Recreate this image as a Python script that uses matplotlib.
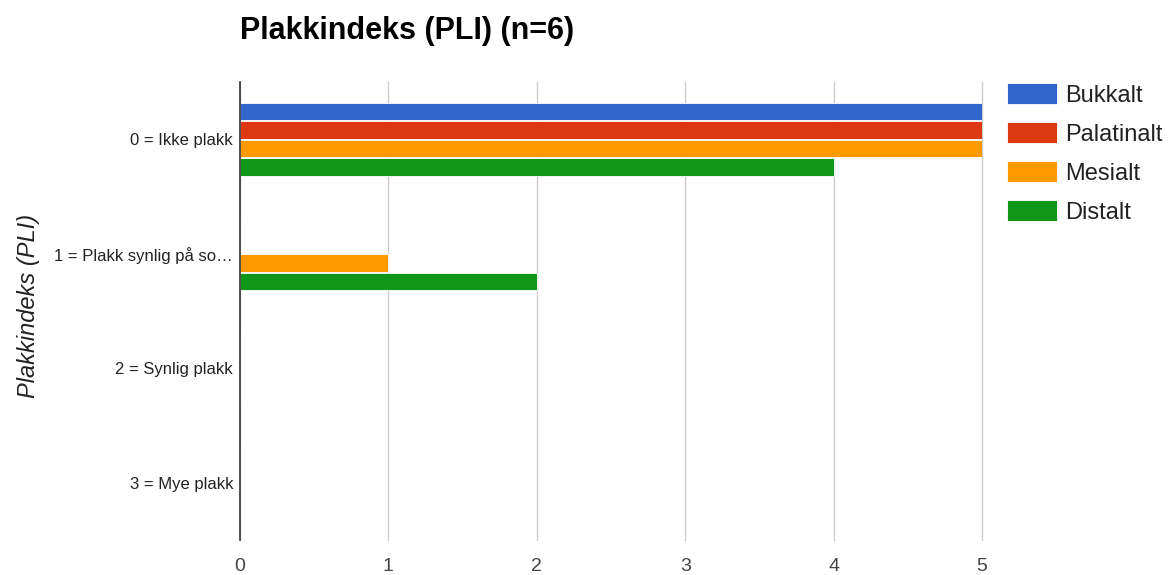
import matplotlib
matplotlib.use("Agg")
import matplotlib.pyplot as plt
import numpy as np

categories = ["0 = Ikke plakk", "1 = Plakk synlig på so…", "2 = Synlig plakk", "3 = Mye plakk"]
series_names = ["Bukkalt", "Palatinalt", "Mesialt", "Distalt"]
bukkalt = [5, 0, 0, 0]
palatinalt = [5, 0, 0, 0]
mesialt = [5, 1, 0, 0]
distalt = [4, 2, 0, 0]
colors = ["#3366cc", "#dc3912", "#ff9900", "#109618"]
x_ticks = [0, 1, 2, 3, 4, 5]

plt.rcParams['font.family'] = ['Liberation Sans', 'DejaVu Sans']

W, H = 1171, 575
fig = plt.figure(figsize=(W / 100, H / 100), dpi=100)
ax = fig.add_axes([240 / W, 1 - 540 / H, (982 - 240) / W, (540 - 82) / H])

values = [bukkalt, palatinalt, mesialt, distalt]
y = np.arange(len(categories))
bh = 0.15
step = 0.162
for i, (name, vals, c) in enumerate(zip(series_names, values, colors)):
    ax.barh(y + (i - 1.5) * step, vals, height=bh, color=c, label=name,
            edgecolor="white", linewidth=0.6, zorder=3)

ax.set_xlim(0, 5)
ax.set_ylim(len(categories) - 0.5, -0.5)
ax.set_xticks(x_ticks)
ax.set_xticklabels([str(t) for t in x_ticks])
ax.set_yticks(y)
ax.set_yticklabels(categories)
ax.tick_params(axis='y', length=0, pad=5, labelsize=12, labelcolor="#222222")
ax.tick_params(axis='x', length=0, pad=13, labelsize=14, labelcolor="#444444")
ax.grid(axis='x', color="#cccccc", linewidth=1, zorder=0)
for gl in ax.get_xgridlines():
    gl.set_clip_on(False)
for s in ["top", "right", "bottom"]:
    ax.spines[s].set_visible(False)
ax.spines["left"].set_color("#333333")
ax.spines["left"].set_linewidth(1.2)
ax.spines["left"].set_zorder(4)

ax.set_ylabel("Plakkindeks (PLI)", fontsize=17, fontstyle="italic", color="#222222")
ax.yaxis.set_label_coords((40 - 240) / (982 - 240), 0.51)

fig.text(240 / W, 1 - 39 / H, "Plakkindeks (PLI) (n=6)", fontsize=22,
         fontweight="bold", ha="left", va="baseline", color="#000000")

leg = ax.legend(loc="upper left", bbox_to_anchor=(1007 / W, 1 - 83 / H),
                bbox_transform=fig.transFigure, frameon=False, fontsize=17,
                handlelength=2.1, handleheight=1.0, handletextpad=0.35,
                labelspacing=0.65, borderpad=0, borderaxespad=0)
for t in leg.get_texts():
    t.set_color("#222222")

fig.savefig("out.png", dpi=100)
